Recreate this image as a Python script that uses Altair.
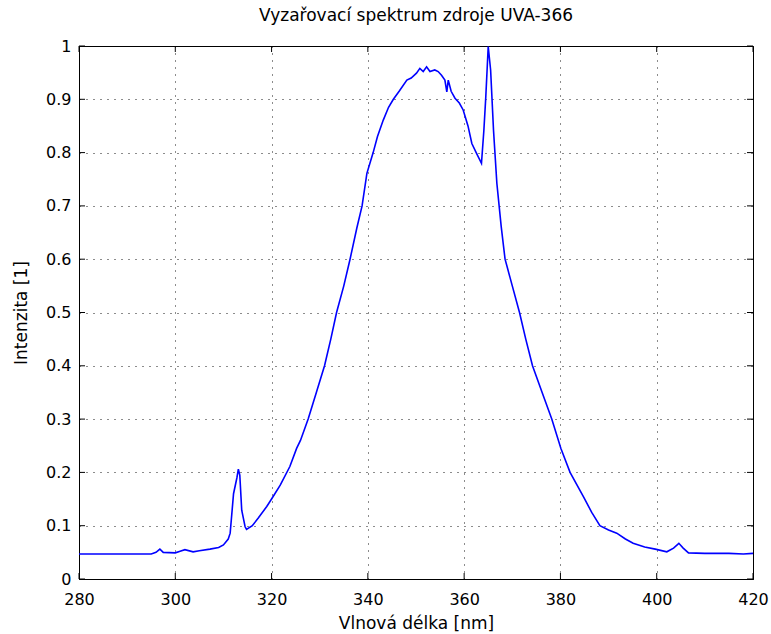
import altair as alt
import pandas as pd

# Spectrum readings (wavelength in nm, relative intensity)
wavelength = [280, 284, 288, 292, 295, 296, 296.8, 297.5, 300, 301, 302, 303.7, 305, 307.2,
              309, 310, 311, 311.4, 312.1, 312.8, 313.1, 313.4, 313.8, 314.5, 314.8, 316,
              317.2, 319, 320, 321.8, 323.8, 325.2, 326, 327.6, 329.3, 331.0, 332.3, 333.5,
              335, 336.3, 337.7, 338.8, 339.8, 341.1, 342, 343.2, 344.3, 345.3, 346.5, 348.1,
              349, 350.1, 350.8, 351.5, 352.2, 352.9, 353.9, 354.6, 355.3, 356.0, 356.4, 356.7,
              357.3, 358.1, 359.0, 359.8, 360.8, 361.6, 362.5, 363.6, 364.1, 364.5, 364.8,
              365.0, 365.5, 366.1, 366.8, 367.7, 368.5, 370, 371.5, 372.8, 374.2, 376.2, 378.2,
              380.1, 382.0, 384.8, 386.5, 388.2, 390, 391.7, 393.5, 395.1, 397.5, 399.7, 402.1,
              403.5, 404.6, 405.5, 406.6, 410, 415, 418, 420]
intensity = [0.047, 0.047, 0.047, 0.047, 0.047, 0.050, 0.056, 0.050, 0.049, 0.052, 0.055, 0.051,
             0.053, 0.056, 0.059, 0.064, 0.075, 0.086, 0.160, 0.190, 0.206, 0.195, 0.129, 0.098,
             0.093, 0.100, 0.114, 0.136, 0.150, 0.176, 0.211, 0.245, 0.260, 0.300, 0.350, 0.400,
             0.450, 0.500, 0.550, 0.600, 0.658, 0.700, 0.761, 0.800, 0.830, 0.861, 0.885, 0.900,
             0.915, 0.936, 0.940, 0.949, 0.958, 0.952, 0.961, 0.952, 0.955, 0.952, 0.945, 0.936,
             0.914, 0.936, 0.915, 0.902, 0.893, 0.880, 0.850, 0.817, 0.800, 0.780, 0.842, 0.905,
             0.961, 0.999, 0.955, 0.842, 0.742, 0.661, 0.600, 0.550, 0.500, 0.450, 0.400, 0.350,
             0.300, 0.245, 0.200, 0.154, 0.125, 0.100, 0.092, 0.086, 0.075, 0.067, 0.060, 0.056,
             0.051, 0.058, 0.067, 0.058, 0.049, 0.048, 0.048, 0.047, 0.048]

x_ticks = [280, 300, 320, 340, 360, 380, 400, 420]
y_ticks = [0, 0.1, 0.2, 0.3, 0.4, 0.5, 0.6, 0.7, 0.8, 0.9, 1.0]

W, H = 674, 533
FONT = "DejaVu Sans"

df = pd.DataFrame({"x": wavelength, "y": intensity})
dfx = pd.DataFrame({"x": x_ticks})
dfy = pd.DataFrame({"y": y_ticks})

xscale = alt.Scale(domain=[280, 420], nice=False, zero=False)
yscale = alt.Scale(domain=[0, 1], nice=False)

xaxis = alt.Axis(values=x_ticks, title="Vlnová délka [nm]", grid=True, ticks=False,
                 labelPadding=12, labelFlush=False, format="d",
                 titleY=49, titleBaseline="alphabetic")
yaxis = alt.Axis(values=y_ticks, title="Intenzita [1]", grid=True, ticks=False,
                 labelPadding=8, labelFlush=False, format=".1~f",
                 titleX=-58, titleBaseline="middle")

line = alt.Chart(df).mark_line(color="#0000ff", strokeWidth=1.6).encode(
    x=alt.X("x:Q", scale=xscale, axis=xaxis),
    y=alt.Y("y:Q", scale=yscale, axis=yaxis),
)

tick_style = dict(color="black", strokeWidth=1)
xt_bottom = alt.Chart(dfx).mark_rule(**tick_style).encode(
    x=alt.X("x:Q", scale=xscale), y=alt.value(H), y2=alt.value(H - 6))
xt_top = alt.Chart(dfx).mark_rule(**tick_style).encode(
    x=alt.X("x:Q", scale=xscale), y=alt.value(0), y2=alt.value(6))
yt_left = alt.Chart(dfy).mark_rule(**tick_style).encode(
    y=alt.Y("y:Q", scale=yscale), x=alt.value(0), x2=alt.value(6))
yt_right = alt.Chart(dfy).mark_rule(**tick_style).encode(
    y=alt.Y("y:Q", scale=yscale), x=alt.value(W), x2=alt.value(W - 6))

chart = alt.layer(line, xt_bottom, xt_top, yt_left, yt_right).properties(
    width=W, height=H,
    title=alt.TitleParams("Vyzařovací spektrum zdroje UVA-366", fontSize=17,
                          fontWeight="normal", font=FONT, color="black", offset=13),
    autosize=alt.AutoSizeParams(type="none"),
    padding={"left": 79, "top": 46, "right": 18, "bottom": 55},
    background="white",
).configure_view(stroke="black", strokeWidth=1).configure_axis(
    domainColor="black", domainWidth=1,
    gridColor="black", gridOpacity=0.9, gridDash=[1, 6], gridWidth=1,
    labelFont=FONT, labelFontSize=16, labelColor="black",
    titleFont=FONT, titleFontSize=17, titleColor="black", titleFontWeight="normal",
)

chart.save("out.html", embed_options={"renderer": "svg", "actions": False})
